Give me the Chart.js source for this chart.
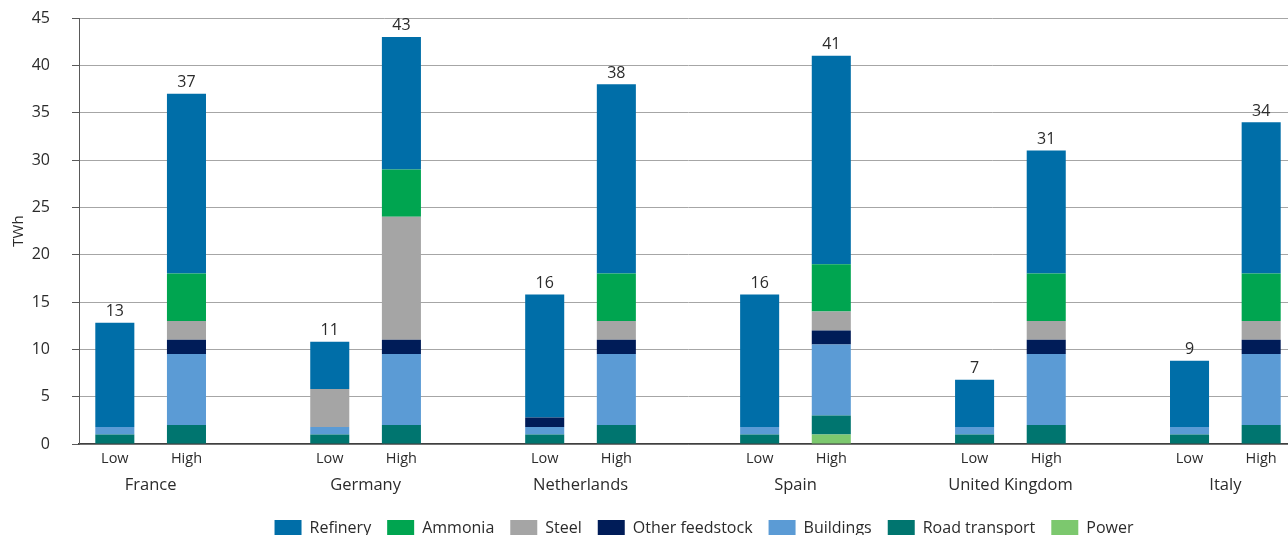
<!DOCTYPE html>
<html>
<head>
<meta charset="utf-8">
<script src="https://cdn.jsdelivr.net/npm/chart.js@4"></script>
<style>
  html, body { margin: 0; padding: 0; background: #fff; overflow: hidden; }
  #wrap { width: 1300px; height: 535px; }
</style>
</head>
<body>
<div id="wrap"><canvas id="chart" width="1300" height="535"></canvas></div>
<script>
// data, bar order: Low then High for each country
const countries = ['France', 'Germany', 'Netherlands', 'Spain', 'United Kingdom', 'Italy'];
const scenarios = ['Low', 'High'];
const power          = [0, 0,   0, 0,   0, 0,   0, 1,   0, 0,   0, 0];
const roadTransport  = [1, 2,   1, 2,   1, 2,   1, 2,   1, 2,   1, 2];
const buildings      = [0.8, 7.5, 0.8, 7.5, 0.8, 7.5, 0.8, 7.5, 0.8, 7.5, 0.8, 7.5];
const otherFeedstock = [0, 1.5, 0, 1.5, 1, 1.5, 0, 1.5, 0, 1.5, 0, 1.5];
const steel          = [0, 2,   4, 13,  0, 2,   0, 2,   0, 2,   0, 2];
const ammonia        = [0, 5,   0, 5,   0, 5,   0, 5,   0, 5,   0, 5];
const refinery       = [11, 19, 5, 14,  13, 20, 14, 22, 5, 13,  7, 16];
const totals         = [13, 37, 11, 43, 16, 38, 16, 41, 7, 31, 9, 34];
const yTicks = [0, 5, 10, 15, 20, 25, 30, 35, 40, 45];

const FONT = "'Open Sans', sans-serif";
const TEXT = '#2b2b2b';

// spread the 12 bars over slots, with an empty slot between countries
const labels = [];
const slotOf = [];
countries.forEach((c, i) => {
  scenarios.forEach(s => {
    slotOf.push(labels.length);
    labels.push(s);
  });
  if (i < countries.length - 1) labels.push('');
});
function spread(arr) {
  const out = labels.map(() => null);
  arr.forEach((v, j) => { out[slotOf[j]] = v; });
  return out;
}

// bottom to top
const series = [
  { label: 'Power', data: power, color: '#7cc86e' },
  { label: 'Road transport', data: roadTransport, color: '#00756f' },
  { label: 'Buildings', data: buildings, color: '#5b9bd5' },
  { label: 'Other feedstock', data: otherFeedstock, color: '#001c58' },
  { label: 'Steel', data: steel, color: '#a5a5a5' },
  { label: 'Ammonia', data: ammonia, color: '#00a550' },
  { label: 'Refinery', data: refinery, color: '#006ea8' }
];

const barLabels = {
  id: 'barLabels',
  afterLayout(chart) {
    // legend sits a bit right of centre in the original
    chart.legend.left += 16;
    chart.legend.right += 16;
  },
  afterDatasetsDraw(chart) {
    const ctx = chart.ctx;
    const x = chart.scales.x;
    const top = chart.getDatasetMeta(series.length - 1).data;
    ctx.save();
    ctx.fillStyle = TEXT;
    ctx.textAlign = 'center';
    ctx.font = '16px ' + FONT;
    ctx.textBaseline = 'bottom';
    totals.forEach((t, j) => {
      const el = top[slotOf[j]];
      ctx.fillText(String(t), el.x, el.y - 3);
    });
    // country names under the Low / High pair
    ctx.font = '16.5px ' + FONT;
    ctx.textBaseline = 'middle';
    countries.forEach((c, i) => {
      const a = x.getPixelForValue(slotOf[i * 2]);
      const b = x.getPixelForValue(slotOf[i * 2 + 1]);
      ctx.fillText(c, (a + b) / 2, 485);
    });
    ctx.restore();
  }
};

new Chart(document.getElementById('chart'), {
  type: 'bar',
  data: {
    labels: labels,
    datasets: series.map(s => ({
      label: s.label,
      data: spread(s.data),
      backgroundColor: s.color,
      borderWidth: 0,
      barPercentage: 1,
      categoryPercentage: 0.545
    }))
  },
  options: {
    responsive: false,
    devicePixelRatio: 1,
    animation: false,
    layout: { padding: { top: 18, right: 3, left: 0, bottom: 0 } },
    plugins: {
      legend: {
        position: 'bottom',
        reverse: true,
        fullSize: false,
        maxHeight: 31,
        labels: {
          boxWidth: 27,
          boxHeight: 16,
          padding: 16,
          color: TEXT,
          font: { family: FONT, size: 16 }
        }
      },
      tooltip: { enabled: false },
      title: { display: false }
    },
    scales: {
      x: {
        stacked: true,
        grid: { display: false, drawTicks: false },
        border: { color: '#404040', width: 1.5 },
        ticks: {
          color: TEXT,
          padding: 6,
          maxRotation: 0,
          autoSkip: false,
          font: { family: FONT, size: 14.5 }
        },
        afterFit(scale) { scale.height = 60; }
      },
      y: {
        stacked: true,
        min: 0,
        max: 45,
        afterBuildTicks(scale) { scale.ticks = yTicks.map(v => ({ value: v })); },
        ticks: {
          color: TEXT,
          padding: 22,
          font: { family: FONT, size: 16 }
        },
        grid: { color: '#a6a6a6', tickColor: '#595959', tickLength: 7 },
        border: { color: '#595959', width: 1 },
        title: {
          display: true,
          text: 'TWh',
          color: TEXT,
          padding: { top: 10, bottom: 0 },
          font: { family: FONT, size: 15 }
        },
        afterFit(scale) {
          scale.width = 79;
          scale.paddingTop = 10;
          scale.paddingBottom = 10;
        }
      }
    }
  },
  plugins: [barLabels]
});
</script>
</body>
</html>
